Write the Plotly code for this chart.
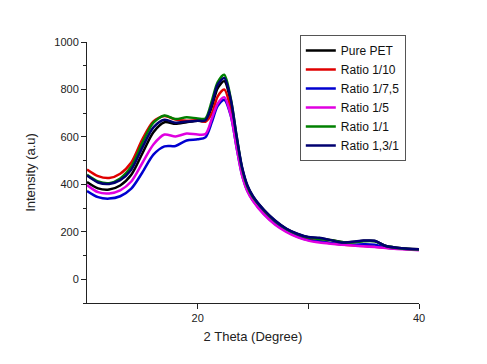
import plotly.graph_objects as go

two_theta = [10, 11, 12, 13, 14, 15, 16, 17, 18, 19, 20, 20.7, 21.3, 21.8, 22.4, 23.0, 23.5, 24,
             24.5, 25, 26, 27, 28, 29, 30, 31, 32, 33, 34, 35, 36, 37, 38, 39, 40]

pure_pet = [410, 383, 378, 395, 440, 530, 620, 662, 655, 662, 668, 667, 730, 805, 835, 745, 600, 470,
            392, 348, 290, 246, 213, 191, 177, 172, 166, 157, 157, 162, 161, 140, 133, 129, 127]
ratio_1_10 = [463, 435, 427, 445, 492, 590, 665, 688, 673, 668, 670, 664, 700, 770, 800, 715, 585, 462,
              385, 343, 283, 238, 207, 184, 168, 160, 152, 147, 143, 140, 137, 133, 130, 127, 124]
ratio_1_7_5 = [372, 346, 340, 350, 382, 450, 525, 560, 562, 585, 590, 598, 665, 730, 757, 688, 560, 442,
               372, 332, 275, 233, 203, 180, 165, 160, 153, 148, 145, 148, 146, 134, 130, 127, 125]
ratio_1_5 = [397, 367, 362, 375, 412, 490, 568, 610, 602, 614, 610, 612, 680, 740, 767, 690, 560, 440,
             370, 330, 272, 230, 200, 178, 163, 155, 150, 146, 142, 139, 136, 132, 128, 125, 122]
ratio_1_1 = [440, 412, 405, 425, 475, 575, 660, 690, 675, 683, 678, 678, 755, 830, 862, 760, 610, 470,
             390, 345, 290, 245, 212, 190, 176, 170, 165, 157, 155, 160, 160, 140, 132, 128, 126]
ratio_13_1 = [437, 408, 402, 418, 462, 555, 640, 672, 660, 665, 668, 670, 740, 820, 848, 755, 608, 475,
              395, 350, 292, 248, 214, 192, 178, 175, 165, 155, 158, 163, 162, 140, 133, 129, 127]

series_names = ["Pure PET", "Ratio 1/10", "Ratio 1/7,5", "Ratio 1/5", "Ratio 1/1", "Ratio 1,3/1"]
series_values = [pure_pet, ratio_1_10, ratio_1_7_5, ratio_1_5, ratio_1_1, ratio_13_1]
series_colors = ["#000000", "#e00000", "#0000d0", "#e000e0", "#008000", "#000070"]

fig = go.Figure()
for name, vals, col in zip(series_names, series_values, series_colors):
    fig.add_trace(go.Scatter(x=two_theta, y=vals, mode="lines", name=name,
                             line=dict(color=col, width=2.5, shape="spline", smoothing=0.8)))

axis_font = dict(family="Arial, Liberation Sans, sans-serif", size=11, color="#222222")
fig.update_layout(
    width=487, height=364,
    margin=dict(l=79, r=76, t=34, b=69),
    plot_bgcolor="white", paper_bgcolor="white",
    font=dict(family="Arial, Liberation Sans, sans-serif", color="#222222"),
    legend=dict(x=0.641, y=1.027, xanchor="left", yanchor="top",
                bordercolor="#555555", borderwidth=1, bgcolor="white",
                font=dict(size=12, color="#111111"), tracegroupgap=0),
    xaxis=dict(range=[10, 40], tickvals=[20, 40], ticktext=["20", "40"],
               ticks="outside", ticklen=5, tickcolor="#222222", automargin=False,
               minor=dict(ticks="outside", tickvals=[30], ticklen=5, tickcolor="#222222"),
               showline=True, linecolor="#222222", linewidth=1, showgrid=False, zeroline=False,
               tickfont=axis_font,
               title=dict(text="2 Theta (Degree)", font=dict(size=13), standoff=8)),
    yaxis=dict(range=[-100, 1000], tickvals=[0, 200, 400, 600, 800, 1000],
               ticks="outside", ticklen=5, tickcolor="#222222", automargin=False,
               minor=dict(ticks="outside", tickvals=[-100, 100, 300, 500, 700, 900], ticklen=3,
                          tickcolor="#222222"),
               showline=True, linecolor="#222222", linewidth=1, showgrid=False, zeroline=False,
               tickfont=axis_font,
               title=dict(text="Intensity (a.u)", font=dict(size=13), standoff=15)),
)

fig.write_html("out.html")
